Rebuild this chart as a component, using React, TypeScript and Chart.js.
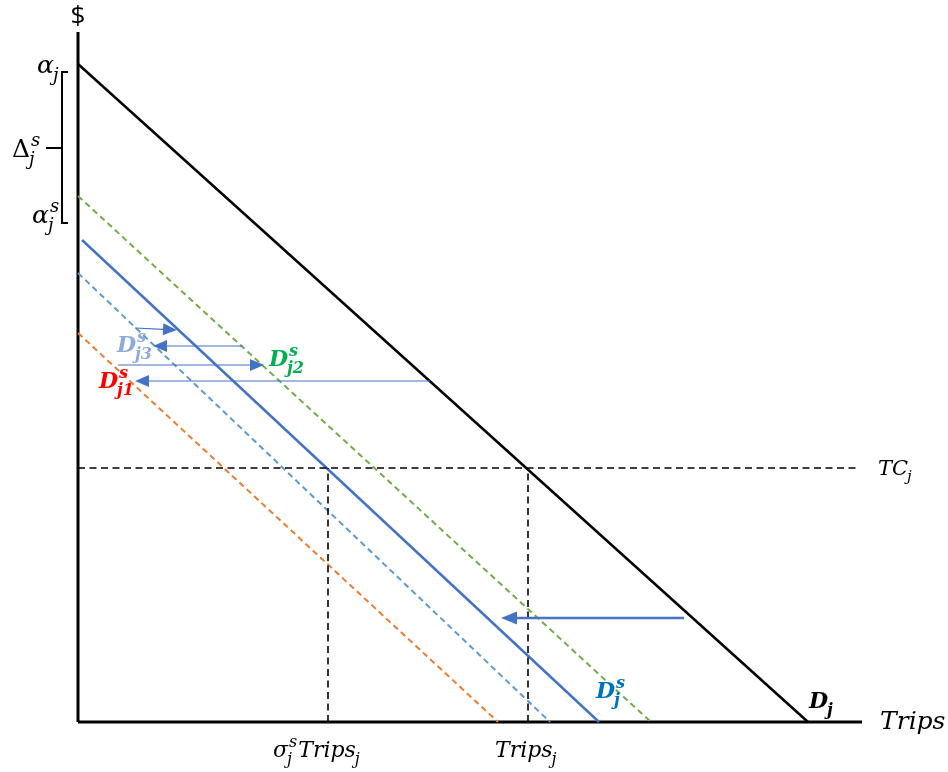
import { useEffect, useRef } from "react";
import { Chart, registerables } from "chart.js";

Chart.register(...registerables);

// Data coordinates: origin at the axes' corner; x = trips, y = $.
const axisYLine = [{ x: 0, y: 0 }, { x: 0, y: 690 }];
const axisXLine = [{ x: 0, y: 0 }, { x: 784, y: 0 }];
const demandD = [{ x: 0, y: 658 }, { x: 730, y: 0 }];
const demandDs = [{ x: 4, y: 482 }, { x: 521, y: 0 }];
const demandDs2 = [{ x: 0, y: 526 }, { x: 573, y: 0 }];
const demandDs3 = [{ x: 0, y: 449 }, { x: 472, y: 0 }];
const demandDs1 = [{ x: 0, y: 389 }, { x: 420, y: 0 }];
const tcLine = [{ x: 0, y: 254 }, { x: 782, y: 254 }];
const tripsSLine = [{ x: 250, y: 0 }, { x: 250, y: 254 }];
const tripsLine = [{ x: 450, y: 0 }, { x: 450, y: 254 }];
const bracketPts = [{ x: -10, y: 650 }, { x: -16, y: 650 }, { x: -16, y: 499 }, { x: -10, y: 499 }];
const bracketTick = [{ x: -32, y: 574 }, { x: -16, y: 574 }];

// arrows: [fromX, fromY, toX, toY, width]
const arrowBig = [606, 104, 423, 104, 2.5];
const arrowA1 = [57, 394, 99, 392, 1.2];
const arrowA2 = [165, 376, 75, 376, 1.2];
const arrowA3 = [40, 357, 186, 357, 1.2];
const arrowA4 = [352, 341, 57, 341, 1.2];
const arrowList = [arrowBig, arrowA1, arrowA2, arrowA3, arrowA4];

// labels: segments [base, sub, sup], x, y (baseline), color, bold, size
type Seg = [string, string, string];
type Lab = { segs: Seg[]; x: number; y: number; color: string; bold: boolean; size: number };
const labels: Lab[] = [
  { segs: [["α", "j", ""]], x: -41, y: 649, color: "#000", bold: false, size: 25 },
  { segs: [["Δ", "j", "s"]], x: -66, y: 565, color: "#000", bold: false, size: 25 },
  { segs: [["α", "j", "s"]], x: -46, y: 499, color: "#000", bold: false, size: 25 },
  { segs: [["D", "j3", "s"]], x: 39, y: 370, color: "#8EA9DB", bold: true, size: 22 },
  { segs: [["D", "j2", "s"]], x: 191, y: 356, color: "#00B050", bold: true, size: 22 },
  { segs: [["D", "j1", "s"]], x: 21, y: 334, color: "#FF0000", bold: true, size: 22 },
  { segs: [["D", "j", "s"]], x: 518, y: 24, color: "#0070C0", bold: true, size: 22 },
  { segs: [["D", "j", ""]], x: 731, y: 14, color: "#000", bold: true, size: 22 },
  { segs: [["TC", "j", ""]], x: 800, y: 247, color: "#000", bold: false, size: 21 },
  { segs: [["Trips", "", ""]], x: 802, y: -7, color: "#000", bold: false, size: 25 },
  { segs: [["σ", "j", "s"], ["Trips", "j", ""]], x: 195, y: -35, color: "#000", bold: false, size: 22 },
  { segs: [["Trips", "j", ""]], x: 417, y: -35, color: "#000", bold: false, size: 22 },
];
const dollarLabel = { text: "$", x: 0, y: 698 };

const FAM = '"DejaVu Serif", serif';

function line(data: { x: number; y: number }[], color: string, width: number, dash: number[] = []) {
  return {
    data,
    showLine: true,
    borderColor: color,
    borderWidth: width,
    borderDash: dash,
    pointRadius: 0,
    fill: false,
    clip: false as any,
    tension: 0,
    borderCapStyle: "butt" as const,
  };
}

const overlay = {
  id: "overlay",
  afterDatasetsDraw(chart: any) {
    const ctx: CanvasRenderingContext2D = chart.ctx;
    const xs = chart.scales.x;
    const ys = chart.scales.y;
    const px = (v: number) => xs.getPixelForValue(v);
    const py = (v: number) => ys.getPixelForValue(v);
    ctx.save();
    // arrows
    for (const a of arrowList) {
      const [x1, y1, x2, y2, w] = a;
      const X1 = px(x1), Y1 = py(y1), X2 = px(x2), Y2 = py(y2);
      const ang = Math.atan2(Y2 - Y1, X2 - X1);
      const hl = w > 2 ? 16 : 14;
      const hw = w > 2 ? 6.5 : 6;
      const bx = X2 - Math.cos(ang) * hl;
      const by = Y2 - Math.sin(ang) * hl;
      ctx.strokeStyle = "#4472C4";
      ctx.fillStyle = "#4472C4";
      ctx.lineWidth = w;
      ctx.beginPath();
      ctx.moveTo(X1, Y1);
      ctx.lineTo(bx, by);
      ctx.stroke();
      ctx.beginPath();
      ctx.moveTo(X2, Y2);
      ctx.lineTo(bx - Math.sin(ang) * hw, by + Math.cos(ang) * hw);
      ctx.lineTo(bx + Math.sin(ang) * hw, by - Math.cos(ang) * hw);
      ctx.closePath();
      ctx.fill();
    }
    // dollar
    ctx.fillStyle = "#000";
    ctx.font = '26px "Open Sans", sans-serif';
    ctx.textAlign = "center";
    ctx.textBaseline = "alphabetic";
    ctx.fillText(dollarLabel.text, px(dollarLabel.x), py(dollarLabel.y));
    ctx.textAlign = "left";
    // math labels
    for (const l of labels) {
      let x = px(l.x);
      const y = py(l.y);
      const wt = l.bold ? "bold " : "";
      ctx.fillStyle = l.color;
      for (const [base, sub, sup] of l.segs) {
        const upright = base === "Δ";
        ctx.font = `${upright ? "" : "italic "}${wt}${l.size}px ${FAM}`;
        ctx.fillText(base, x, y);
        x += ctx.measureText(base).width;
        const ss = Math.round(l.size * 0.72);
        ctx.font = `italic ${wt}${ss}px ${FAM}`;
        let w1 = 0, w2 = 0;
        if (sub) {
          ctx.fillText(sub, x - 1, y + l.size * 0.3);
          w1 = ctx.measureText(sub).width - 1;
        }
        if (sup) {
          ctx.fillText(sup, x + 1, y - l.size * 0.45);
          w2 = ctx.measureText(sup).width + 1;
        }
        x += Math.max(w1, w2) + 1;
      }
    }
    ctx.restore();
  },
};

export default function App() {
  const ref = useRef<HTMLCanvasElement | null>(null);
  useEffect(() => {
    document.body.style.margin = "0";
    const canvas = ref.current!;
    const chart = new Chart(canvas, {
      type: "scatter",
      data: {
        datasets: [
          line(tcLine, "#000", 1.6, [7, 4.5]),
          line(tripsSLine, "#000", 1.6, [7, 4.5]),
          line(tripsLine, "#000", 1.6, [7, 4.5]),
          line(demandDs1, "#ED7D31", 2, [6, 4]),
          line(demandDs3, "#5B9BD5", 2, [6, 4]),
          line(demandDs2, "#70AD47", 2, [6, 4]),
          line(demandDs, "#4472C4", 2.5),
          line(demandD, "#000", 2.5),
          line(axisYLine, "#000", 3),
          line(axisXLine, "#000", 3),
          line(bracketPts, "#000", 2),
          line(bracketTick, "#000", 2),
        ] as any,
      },
      options: {
        animation: false,
        responsive: false,
        events: [],
        layout: { padding: 0 },
        plugins: { legend: { display: false }, tooltip: { enabled: false } },
        scales: {
          x: { type: "linear", display: false, min: -78, max: 870 },
          y: { type: "linear", display: false, min: -50, max: 722 },
        },
      },
      plugins: [overlay],
    });
    return () => chart.destroy();
  }, []);
  return (
    <div style={{ width: 948, height: 772, background: "#fff" }}>
      <canvas ref={ref} width={948} height={772} style={{ display: "block" }} />
    </div>
  );
}
